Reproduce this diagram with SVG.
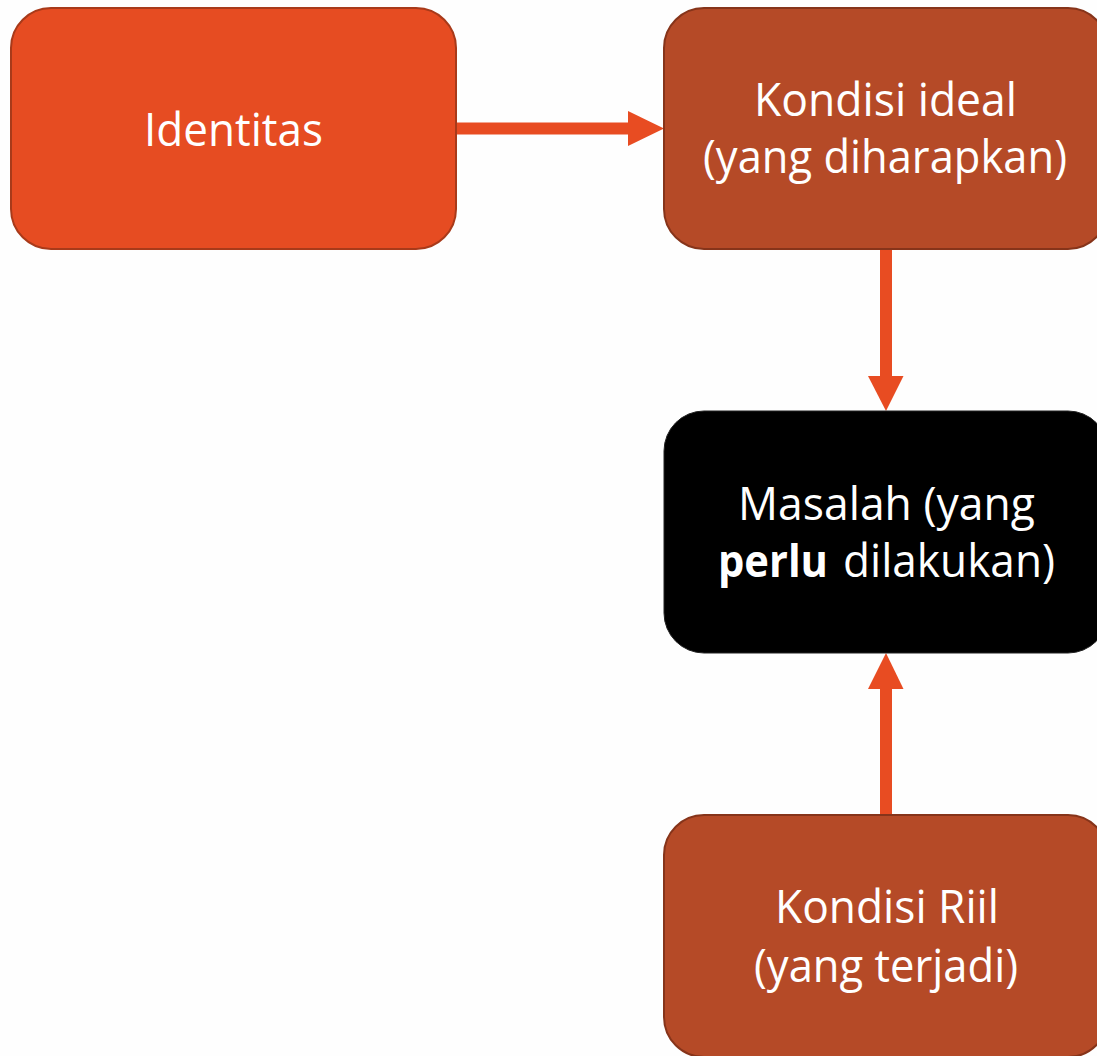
<svg xmlns="http://www.w3.org/2000/svg" width="1097" height="1056" viewBox="0 0 1097 1056">
  <defs>
    <style>
      .lbl { font-family: "Open Sans", "Noto Sans", "Liberation Sans", sans-serif; font-size: 45px; fill: #ffffff; }
      .b { font-weight: bold; }
      .box-orange { fill: #E64C22; stroke: #A83A1A; stroke-width: 2; }
      .box-brown { fill: #B54A27; stroke: #86341A; stroke-width: 2; }
      .box-black { fill: #000000; stroke: #222222; stroke-width: 1; }
      .shaft { stroke: #E84C22; stroke-width: 12; fill: none; }
      .head { fill: #E84C22; }
    </style>
  </defs>
  <rect x="0" y="0" width="1097" height="1056" fill="#fefefe"/>

  <g id="connectors">
    <line class="shaft" x1="456" y1="128.5" x2="630" y2="128.5"/>
    <polygon class="head" points="628,111 664,128.5 628,146"/>
    <line class="shaft" x1="886" y1="249" x2="886" y2="378"/>
    <polygon class="head" points="868,376 903.5,376 886,411"/>
    <line class="shaft" x1="886" y1="815" x2="886" y2="687"/>
    <polygon class="head" points="868,689 903.5,689 886,653"/>
  </g>

  <g id="node-identitas">
    <rect class="box-orange" x="11" y="8" width="445" height="241" rx="40" ry="40"/>
    <text class="lbl" x="144" y="146" textLength="179" lengthAdjust="spacingAndGlyphs">Identitas</text>
  </g>

  <g id="node-kondisi-ideal">
    <rect class="box-brown" x="664" y="8" width="444" height="241" rx="40" ry="40"/>
    <text class="lbl" x="754" y="116" textLength="263" lengthAdjust="spacingAndGlyphs">Kondisi ideal</text>
    <text class="lbl" x="703" y="173" textLength="364" lengthAdjust="spacingAndGlyphs">(yang diharapkan)</text>
  </g>

  <g id="node-masalah">
    <rect class="box-black" x="664" y="411" width="444" height="242" rx="40" ry="40"/>
    <text class="lbl" x="738" y="520" textLength="297" lengthAdjust="spacingAndGlyphs">Masalah (yang</text>
    <text class="lbl b" x="718" y="577" textLength="110" lengthAdjust="spacingAndGlyphs">perlu</text>
    <text class="lbl" x="843" y="577" textLength="212" lengthAdjust="spacingAndGlyphs">dilakukan)</text>
  </g>

  <g id="node-kondisi-riil">
    <rect class="box-brown" x="664" y="815" width="444" height="242" rx="40" ry="40"/>
    <text class="lbl" x="775" y="923" textLength="224" lengthAdjust="spacingAndGlyphs">Kondisi Riil</text>
    <text class="lbl" x="754" y="982" textLength="264" lengthAdjust="spacingAndGlyphs">(yang terjadi)</text>
  </g>
</svg>
